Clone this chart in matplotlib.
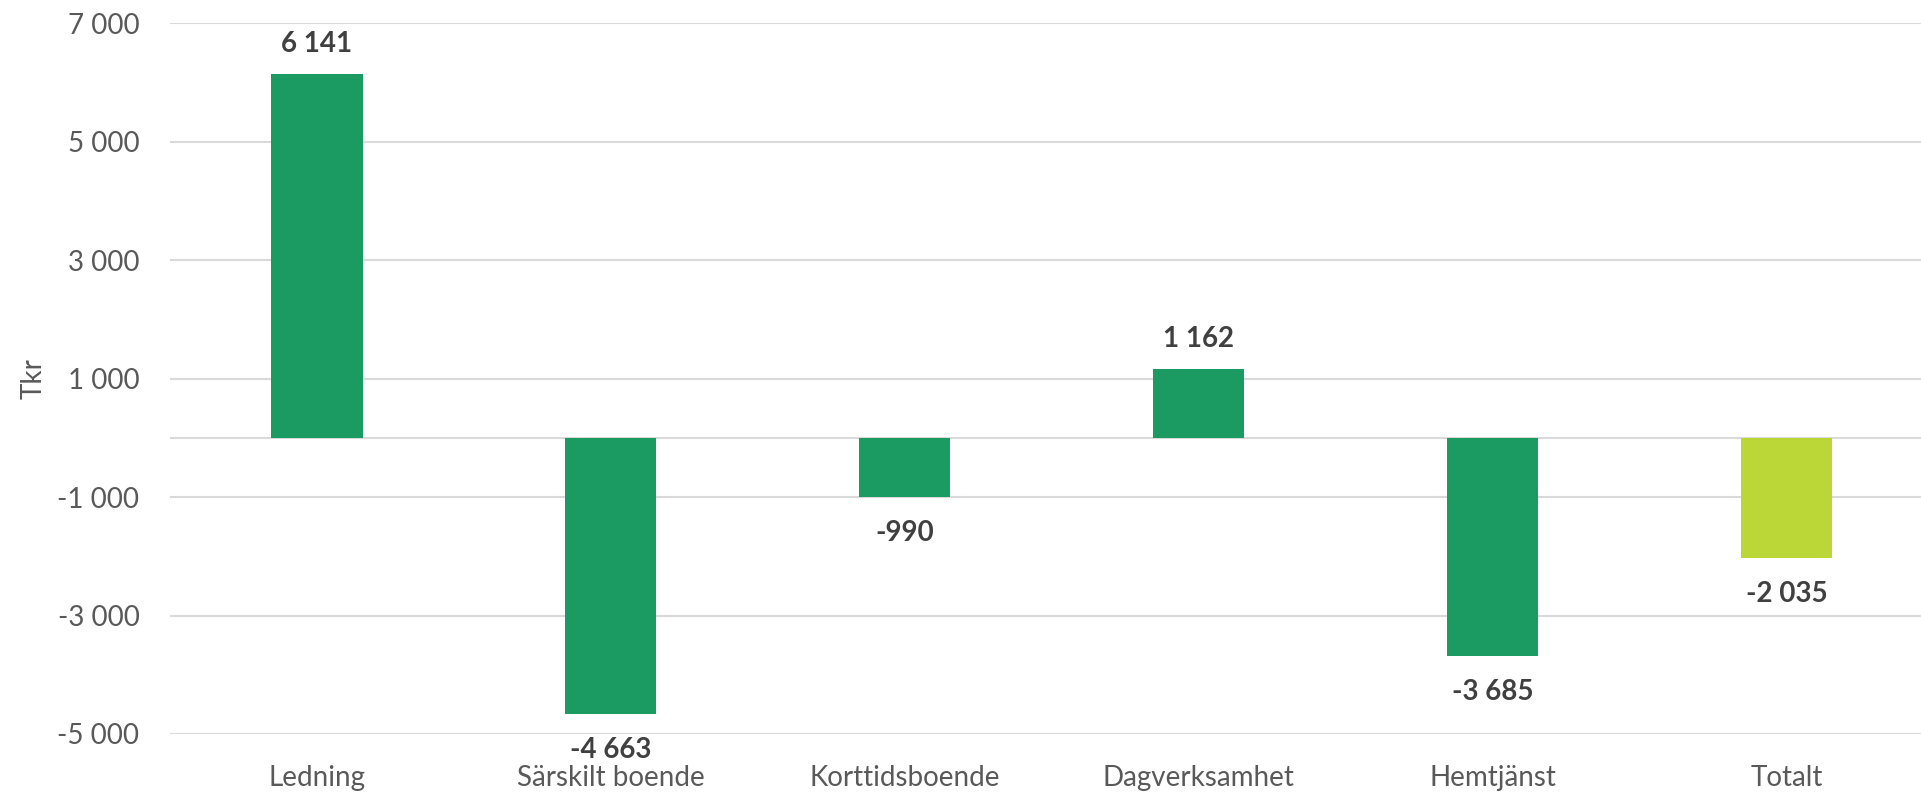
# budget deviation per verksamhet, Tkr
import matplotlib.pyplot as plt
from matplotlib.ticker import FixedLocator, FuncFormatter

categories = ["Ledning", "Särskilt boende", "Korttidsboende", "Dagverksamhet", "Hemtjänst", "Totalt"]
values = [6141, -4663, -990, 1162, -3685, -2035]
bar_colors = ["#1B9A62", "#1B9A62", "#1B9A62", "#1B9A62", "#1B9A62", "#BBD737"]
yticks = [-5000, -3000, -1000, 1000, 3000, 5000, 7000]

def fmt(v):
    return f"{int(v):,}".replace(",", " ")

plt.rcParams["font.family"] = ["Lato", "DejaVu Sans"]

fig = plt.figure(figsize=(19.21, 7.94), dpi=100)
ax = fig.add_axes([0.0885, 0.0756, 0.918, 0.895])

x = range(len(categories))
ax.bar(x, values, width=0.31, color=bar_colors, zorder=3)

for xi, v in zip(x, values):
    off = 22 if v > 0 else -26
    ax.annotate(fmt(v), (xi, v), xytext=(0, off), textcoords="offset points",
                ha="center", va="center", fontsize=20, fontweight="bold", color="#404040")

ax.set_xlim(-0.5, len(categories) - 0.5)
ax.set_ylim(-5000, 7000)
ax.yaxis.set_major_locator(FixedLocator(yticks))
ax.yaxis.set_major_formatter(FuncFormatter(lambda v, p: fmt(v)))
ax.grid(axis="y", color="#D9D9D9", linewidth=1.5, zorder=0)
ax.axhline(0, color="#D9D9D9", linewidth=1.5, zorder=1)

ax.set_xticks(list(x))
ax.set_xticklabels(categories)
ax.tick_params(axis="x", length=0, pad=22, labelsize=20, labelcolor="#595959")
ax.tick_params(axis="y", length=0, pad=22, labelsize=20, labelcolor="#595959")
for s in ax.spines.values():
    s.set_visible(False)

ax.set_ylabel("Tkr", fontsize=20, color="#595959", labelpad=8)

plt.savefig("out.png", dpi=100)
